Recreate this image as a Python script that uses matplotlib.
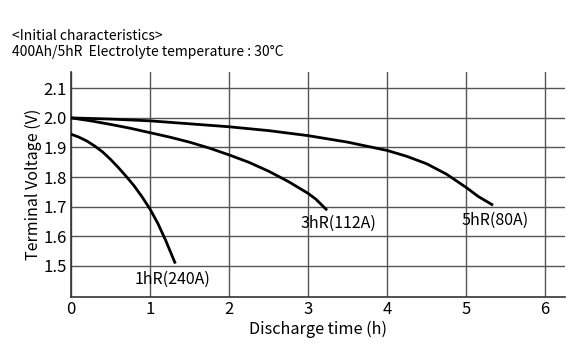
import matplotlib.pyplot as plt

plt.rcParams['font.family'] = ['Noto Sans CJK JP', 'DejaVu Sans']

# discharge curves
t_1hr = [0, 0.1, 0.2, 0.3, 0.4, 0.5, 0.6, 0.7, 0.8, 0.9, 1.0, 1.1, 1.2, 1.27, 1.32]
v_1hr = [1.945, 1.935, 1.922, 1.905, 1.885, 1.86, 1.832, 1.802, 1.77, 1.733, 1.692,
         1.643, 1.585, 1.54, 1.508]

t_3hr = [0, 0.25, 0.5, 0.75, 1.0, 1.25, 1.5, 1.75, 2.0, 2.25, 2.5, 2.75, 3.0, 3.1, 3.24]
v_3hr = [2.0, 1.99, 1.978, 1.965, 1.95, 1.935, 1.918, 1.898, 1.875, 1.85, 1.82,
         1.785, 1.745, 1.725, 1.688]

t_5hr = [0, 0.5, 1.0, 1.5, 2.0, 2.5, 3.0, 3.5, 4.0, 4.25, 4.5, 4.75, 5.0, 5.15, 5.34]
v_5hr = [2.0, 1.996, 1.99, 1.98, 1.97, 1.957, 1.94, 1.918, 1.89, 1.87, 1.845,
         1.81, 1.765, 1.735, 1.705]

labels = ['1hR(240A)', '3hR(112A)', '5hR(80A)']
label_pos = [(1.28, 1.455), (3.39, 1.645), (5.37, 1.655)]

xticks = [0, 1, 2, 3, 4, 5, 6]
yticks = [1.5, 1.6, 1.7, 1.8, 1.9, 2.0, 2.1]

fig = plt.figure(figsize=(5.78, 3.58), dpi=100)
ax = fig.add_axes([0.1228, 0.1704, 0.8547, 0.6285])

for t, v in [(t_1hr, v_1hr), (t_3hr, v_3hr), (t_5hr, v_5hr)]:
    ax.plot(t, v, color='black', lw=2, solid_capstyle='butt', solid_joinstyle='round', zorder=3)

for lab, (x, y) in zip(labels, label_pos):
    ax.text(x, y, lab, ha='center', va='center', fontsize=11.5)

ax.set_xlim(0, 6.25)
ax.set_ylim(1.395, 2.155)
ax.set_xticks(xticks)
ax.set_yticks(yticks)
ax.tick_params(length=0, labelsize=12, pad=3)
ax.grid(True, color='#555555', lw=1)
for s in ['top', 'right']:
    ax.spines[s].set_visible(False)
for s in ['left', 'bottom']:
    ax.spines[s].set_color('#333333')
    ax.spines[s].set_linewidth(1.2)

ax.set_xlabel('Discharge time (h)', fontsize=11.7, labelpad=2)
ax.set_ylabel('Terminal Voltage (V)', fontsize=11.5, labelpad=1)

fig.text(0.021, 0.9, '<Initial characteristics>', fontsize=10, va='center')
fig.text(0.021, 0.855, '400Ah/5hR  Electrolyte temperature : 30°C', fontsize=10, va='center')

fig.savefig('out.png', dpi=100)
